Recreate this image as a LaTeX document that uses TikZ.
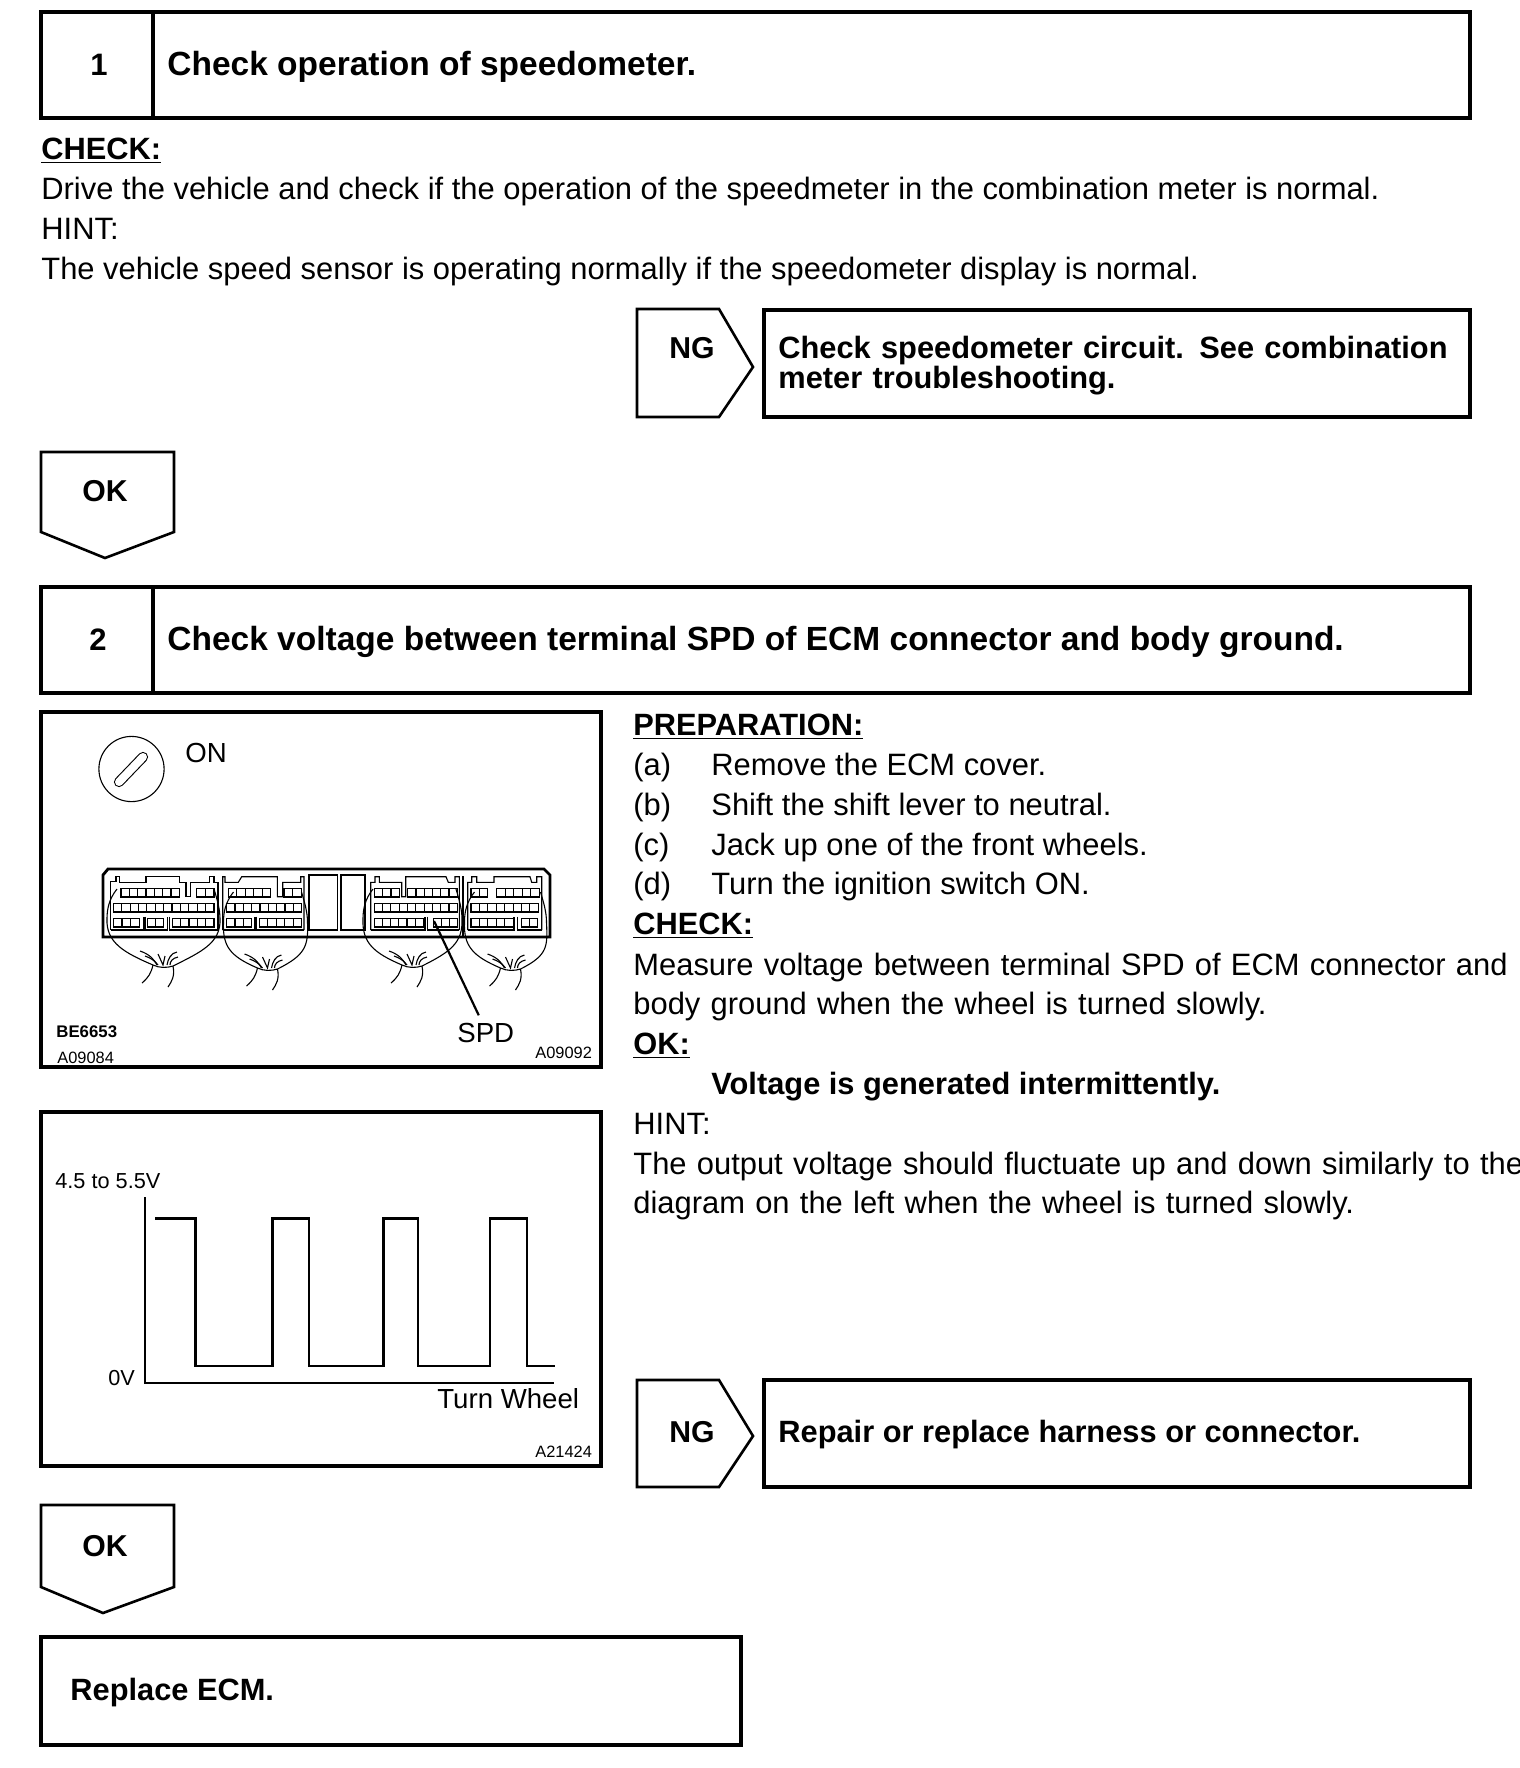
\documentclass[tikz,border=0pt]{standalone}
\usepackage{fontspec}
\setmainfont{Liberation Sans}
\usetikzlibrary{positioning, calc}

\begin{document}
\begin{tikzpicture}[x=0.5pt, y=-0.5pt]
    \tikzset{
        box line/.style={line width=1.6pt, line join=miter},
        flag line/.style={line width=1.3pt, line join=miter},
        figure line/.style={line width=0.55pt},
        body text/.style={font=\fontsize{15.45}{19.9}\selectfont, anchor=base west, inner sep=0pt},
        bold text/.style={font=\fontsize{15.4}{15}\selectfont\bfseries, anchor=base west, inner sep=0pt},
        flag text/.style={font=\fontsize{15.1}{15}\selectfont\bfseries, anchor=base west, inner sep=0pt},
        step title/.style={font=\fontsize{16.75}{18}\selectfont\bfseries, anchor=base west, inner sep=0pt},
        step number/.style={font=\fontsize{15.5}{18}\selectfont\bfseries, anchor=base, inner sep=0pt},
        figure text/.style={font=\fontsize{13.8}{15}\selectfont, anchor=base west, inner sep=0pt},
        level text/.style={font=\fontsize{10.85}{12}\selectfont, anchor=base west, inner sep=0pt},
        figure code/.style={font=\fontsize{8.2}{9}\selectfont, anchor=base west, inner sep=0pt},
        pics/harness/.style n args={2}{
            code={
                \draw[figure line] (#1+10,-76) .. controls (#1+2,-66) and (#1,-56) .. (#1,-46)
                    .. controls (#1-1,-22) and (-38,-12) .. (-10,0)
                    .. controls (-4,3) and (4,3) .. (10,1)
                    .. controls (38,-13) and (#2+1,-22) .. (#2,-46)
                    .. controls (#2,-56) and (#2-3,-66) .. (#2-6,-76);
                \draw[figure line] (-10,0) .. controls (-12,8) and (-14,12) .. (-21,18);
                \draw[figure line] (10,1) .. controls (12,11) and (9,16) .. (5,22);
                \draw[figure line] (-23,-14) .. controls (-14,-11) and (-9,-6) .. (-6,0);
                \draw[figure line] (-18,-9) .. controls (-12,-7) and (-8,-4) .. (-5,0);
                \draw[figure line] (-5,-11) -- (0,0) -- (2,-9);
                \draw[figure line] (14,-13) .. controls (8,-12) and (5,-6) .. (4,0);
                \draw[figure line] (15,-8) .. controls (10,-7) and (7,-4) .. (7,0);
            }
        }
    }
    \useasboundingbox (0,0) rectangle (1520,1768);

    % step 1
    \draw[box line] (41,12) rectangle (1470,118);
    \draw[box line] (153,12) -- (153,118);
    \node[step number] (stepone) at (99,75) {1};
    \node[step title] (stepone title) at (167,75) {Check operation of speedometer.};
    \node[bold text] (check one) at (41,159) {\underline{CHECK:}};
    \node[body text] (drive) at (41,199) {Drive the vehicle and check if the operation of the speedmeter in the combination meter is normal.};
    \node[body text] (hint one) at (41,239) {HINT:};
    \node[body text] (sensor) at (41,279) {The vehicle speed sensor is operating normally if the speedometer display is normal.};

    % NG / OK flags of step 1
    \draw[flag line] (637,309) -- (719,309) -- (753,367) -- (719,417) -- (637,417) -- cycle;
    \node[flag text] (ng one) at (669,358) {NG};
    \draw[box line] (764,310) rectangle (1470,417);
    \node[bold text, text width=345pt, align=left] (ng one text) at (778,358) {\makebox[340.5pt][s]{Check speedometer circuit. See combination}\\ meter troubleshooting.};
    \draw[flag line] (41,452) -- (174,452) -- (174,532) -- (105,558) -- (41,532) -- cycle;
    \node[flag text] (ok one) at (82,501) {OK};

    % step 2
    \draw[box line] (41,587) rectangle (1470,693);
    \draw[box line] (153,587) -- (153,693);
    \node[step number] (steptwo) at (98,650) {2};
    \node[step title] (steptwo title) at (167,650) {Check voltage between terminal SPD of ECM connector and body ground.};

    % ECM connector figure
    \draw[box line] (41,712) rectangle (601,1067);
    \draw[figure line] (131.5,769) circle (32.6);
    \draw[line width=0.55pt, double, double distance=4pt, line cap=round] (119,782) -- (143,757);
    \node[figure text] (on) at (185,762) {ON};
    \draw[line width=1.4pt] (108,869) -- (544,869) -- (550,875) -- (550,937) -- (103,937) -- (103,875) -- cycle;
    \draw[figure line] (309,875) rectangle (337.5,930);
    \draw[figure line] (341,875) rectangle (365,930);
    \draw[line width=1.2pt] (462.7,876) -- (462.7,937);
    % connector outlines
    \draw[figure line] (110.7,930) |- (116,881.7) |- (119.3,876.7) |- (146,882.3) |- (179.3,876.7) |- (186,882.3) |- (190.7,896.7) |- (209.3,882.3) |- (214,876.7) |- (218,882.3) -- (218,930);
    \draw[figure line] (110.7,930) -| (143.3,916.7);
    \draw[figure line] (145,916.7) |- (167.3,930) -- (167.3,916.7);
    \draw[figure line] (169.3,916.7) |- (218,930);
    \draw[figure line] (222.7,930) |- (225,876.7) |- (238.3,882.3) -- (241.7,876.7) -| (277.3,896.7) -| (282.7,882.3) -| (300.7,876.7) -| (304,930);
    \draw[figure line] (222.7,930) -| (255,916.7);
    \draw[figure line] (256.7,916.7) |- (304,930);
    \draw[figure line] (370.7,930) |- (375,882.3) |- (379.3,876.7) |- (401.7,882.3) |- (405.7,896.7) |- (446,876.7) -- (448.3,882.3) -| (455,876.7) -| (459.3,930);
    \draw[figure line] (370.7,930) -| (425,916.7);
    \draw[figure line] (427.3,916.7) |- (459.3,930);
    \draw[figure line] (467.7,930) |- (471.7,882.3) |- (476.7,876.7) |- (494,882.3) |- (530,876.7) -- (531.7,882.3) -| (536.7,876.7) -| (541.7,930);
    \draw[figure line] (467.7,930) -| (514,916.7);
    \draw[figure line] (517.3,916.7) |- (541.7,930);
    % terminal rows
    \foreach \ya/\groups in {888.3/{121/179.3/7,196.7/214/2,228.3/270.7/5,284/301.7/2,374.3/399.3/3,407.7/457.3/6,471/487.3/2,496.7/539.3/5},
                             903.3/{113.3/214/12,226.7/301.7/9,374.3/457.3/10,471/538.3/8},
                             918.3/{113.3/139.3/3,147.3/163.3/2,172.3/214/5,226.7/251.7/3,259.3/301.7/5,374.3/423.3/6,433.3/457.3/3,471/513.3/5,521.7/537.3/2}}{
        \foreach \xa/\xb/\nc in \groups {
            \draw[line width=0.75pt] (\xa,\ya) rectangle (\xb,\ya+8.7);
            \pgfmathsetmacro{\dx}{(\xb-\xa)/\nc}
            \foreach \i in {1,...,\nc}
                \draw[figure line] (\xa+\i*\dx,\ya) -- ++(0,8.7);
        }
    }
    % wire harnesses
    \pic at (163,965) {harness={-56}{57}};
    \pic at (267.5,968) {harness={-44}{40}};
    \pic at (412,965) {harness={-49}{50}};
    \pic at (510.5,968) {harness={-46}{36}};
    \node[figure text] (spd label) at (457,1042) {SPD};
    \coordinate (spd terminal) at (434,921);
    \draw[line width=1.1pt] ([xshift=-3.5pt,yshift=3.5pt]spd label.north) -- (spd terminal);
    \node[figure code, font=\fontsize{8.4}{9}\selectfont\bfseries] (be code) at (56,1037) {BE6653};
    \node[figure code] (a code) at (57,1063) {A09084};
    \node[figure code] (b code) at (535,1058) {A09092};

    % voltage figure
    \draw[box line] (41,1112) rectangle (601,1466);
    \draw[line width=0.8pt] (144.7,1197) -- (144.7,1383) -- (554.4,1383);
    \draw[line width=1.3pt] (155,1218.3) -| (195.4,1366) -| (272.5,1218.3) -| (309,1366) -| (383.4,1218.3) -| (418,1366) -| (490,1218.3) -| (527,1366) -- (555,1366);
    \node[level text] (high level) at (55,1188) {4.5 to 5.5V};
    \node[level text] (low level) at (108,1385) {0V};
    \node[figure text] (turn wheel) at (437,1408) {Turn Wheel};
    \node[figure code] (c code) at (535,1457) {A21424};

    % right column
    \node[bold text] (prep) at (633,735) {\underline{PREPARATION:}};
    \foreach \ya/\letter/\line [count=\n] in {775/a/Remove the ECM cover., 815/b/Shift the shift lever to neutral., 855/c/Jack up one of the front wheels., 894/d/Turn the ignition switch ON.} {
        \node[body text] (item letter \n) at (633,\ya) {(\letter)};
        \node[body text] (item \n) at (711,\ya) {\line};
    }
    \node[bold text] (check two) at (633,934) {\underline{CHECK:}};
    \node[body text, text width=425pt, align=left] (measure) at (633,975) {\makebox[419.5pt][s]{Measure voltage between terminal SPD of ECM connector and}\\ body ground when the wheel is turned slowly.};
    \node[bold text] (ok two) at (633,1054) {\underline{OK:}};
    \node[bold text] (voltage) at (711,1094) {Voltage is generated intermittently.};
    \node[body text] (hint two) at (633,1134) {HINT:};
    \node[body text, text width=425pt, align=left] (output) at (633,1174) {\makebox[420.5pt][s]{The output voltage should fluctuate up and down similarly to the}\\ diagram on the left when the wheel is turned slowly.};

    % NG / OK flags of step 2
    \draw[flag line] (637,1380) -- (719,1380) -- (753,1436) -- (719,1487) -- (637,1487) -- cycle;
    \node[flag text] (ng two) at (669,1442) {NG};
    \draw[box line] (764,1380) rectangle (1470,1487);
    \node[bold text] (ng two text) at (778,1442) {Repair or replace harness or connector.};
    \draw[flag line] (41,1505) -- (174,1505) -- (174,1587) -- (103,1613) -- (41,1587) -- cycle;
    \node[flag text] (ok three) at (82,1556) {OK};
    \draw[box line] (41,1637) rectangle (741,1745);
    \node[bold text] (replace) at (70,1700) {Replace ECM.};
\end{tikzpicture}
\end{document}
